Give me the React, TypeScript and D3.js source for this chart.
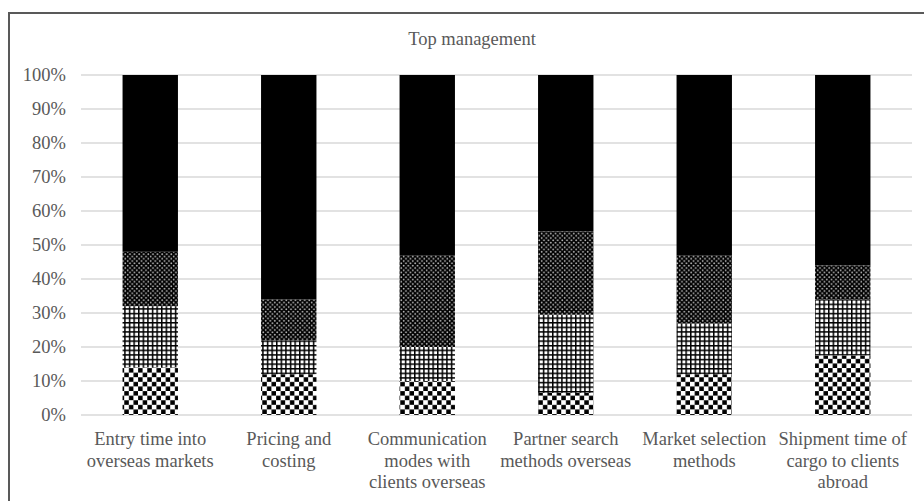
import React from "react";
import * as d3 from "d3";

const width = 924;
const height = 501;

const title = "Top management";

const categories = [
  "Entry time into overseas markets",
  "Pricing and costing",
  "Communication modes with clients overseas",
  "Partner search methods overseas",
  "Market selection methods",
  "Shipment time of cargo to clients abroad",
];

const categoryLines = [
  ["Entry time into", "overseas markets"],
  ["Pricing and", "costing"],
  ["Communication", "modes with", "clients overseas"],
  ["Partner search", "methods overseas"],
  ["Market selection", "methods"],
  ["Shipment time of", "cargo to clients", "abroad"],
];

// Shares (%) for each stacked segment, bottom to top
const seriesKeys = ["checker", "grid", "dots", "solid"];
const checkerValues = [14, 12, 10, 6.5, 12, 17.5];
const gridValues = [18, 10, 10, 23, 15, 16.5];
const dotsValues = [16, 12, 27, 24.5, 20, 10];
const solidValues = [52, 66, 53, 46, 53, 56];

const yTicks = [0, 0.1, 0.2, 0.3, 0.4, 0.5, 0.6, 0.7, 0.8, 0.9, 1];

const textColor = "#595959";
const gridColor = "#d9d9d9";
const font = "'Liberation Serif', 'Times New Roman', serif";

export default function App() {
  const rows = categories.map((c, i) => ({
    category: c,
    checker: checkerValues[i],
    grid: gridValues[i],
    dots: dotsValues[i],
    solid: solidValues[i],
  }));
  const stacked = d3.stack<any>().keys(seriesKeys).offset(d3.stackOffsetExpand)(rows);

  const x = d3
    .scaleBand<string>()
    .domain(categories)
    .range([81, 912])
    .paddingInner(0.6)
    .paddingOuter(0.3);
  const y = d3.scaleLinear().domain([0, 1]).range([415, 75]);
  const fmt = d3.format(".0%");

  const fills: Record<string, string> = {
    checker: "url(#pat-checker)",
    grid: "url(#pat-grid)",
    dots: "url(#pat-dots)",
    solid: "#000000",
  };

  return (
    <svg
      width={width}
      height={height}
      style={{ position: "absolute", left: 0, top: 0, background: "#fff" }}
      fontFamily={font}
    >
      <defs>
        <pattern id="pat-checker" width={9.2} height={9.2} patternUnits="userSpaceOnUse">
          <rect width={9.2} height={9.2} fill="#fff" />
          <rect x={0.1} y={0.1} width={4.5} height={4.5} fill="#000" />
          <rect x={4.7} y={4.7} width={4.5} height={4.5} fill="#000" />
        </pattern>
        <pattern id="pat-grid" width={4.6} height={4.6} patternUnits="userSpaceOnUse">
          <rect width={4.6} height={4.6} fill="#fff" />
          <rect x={0} y={0} width={4.6} height={1.5} fill="#000" />
          <rect x={0} y={0} width={1.5} height={4.6} fill="#000" />
        </pattern>
        <pattern id="pat-dots" width={4.6} height={4.6} patternUnits="userSpaceOnUse">
          <rect width={4.6} height={4.6} fill="#000" />
          <circle cx={1.15} cy={1.15} r={0.9} fill="#bfbfbf" />
          <circle cx={3.45} cy={3.45} r={0.9} fill="#bfbfbf" />
        </pattern>
      </defs>

      <rect x={9} y={13} width={940} height={520} fill="#fff" stroke={textColor} strokeWidth={2} />

      <text x={472} y={45} textAnchor="middle" fontSize={18.5} fill={textColor}>
        {title}
      </text>

      {yTicks.map((t) => (
        <g key={t}>
          <line x1={81} x2={912} y1={y(t)} y2={y(t)} stroke={gridColor} strokeWidth={1.3} />
          <text
            x={66}
            y={y(t)}
            dy="0.35em"
            textAnchor="end"
            fontSize={18.5}
            fill={textColor}
          >
            {fmt(t)}
          </text>
        </g>
      ))}

      {stacked.map((s) => (
        <g key={s.key} fill={fills[s.key]}>
          {s.map((d, i) => (
            <rect
              key={i}
              x={x(categories[i])}
              width={x.bandwidth()}
              y={y(d[1])}
              height={y(d[0]) - y(d[1])}
            />
          ))}
        </g>
      ))}

      {categoryLines.map((lines, i) => (
        <text
          key={i}
          x={(x(categories[i]) as number) + x.bandwidth() / 2}
          y={445}
          textAnchor="middle"
          fontSize={18.5}
          fill={textColor}
        >
          {lines.map((ln, j) => (
            <tspan key={j} x={(x(categories[i]) as number) + x.bandwidth() / 2} dy={j === 0 ? 0 : 21.5}>
              {ln}
            </tspan>
          ))}
        </text>
      ))}
    </svg>
  );
}
